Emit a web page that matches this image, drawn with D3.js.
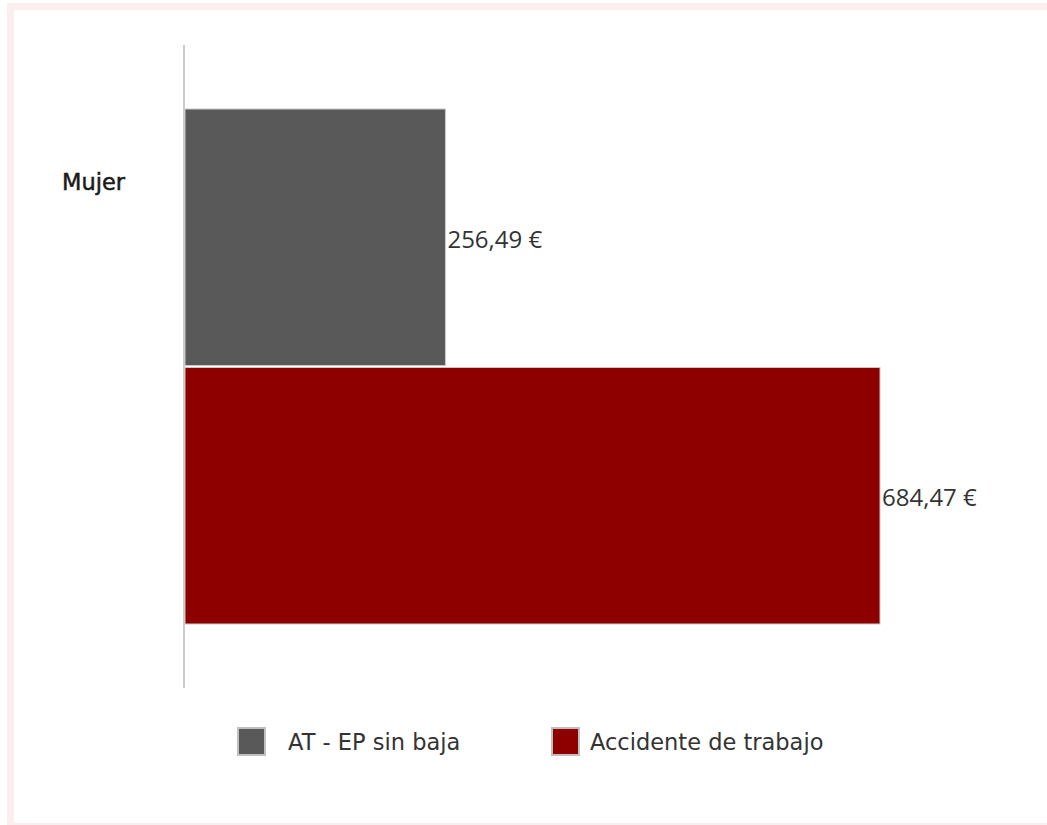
<!DOCTYPE html>
<html>
<head>
<meta charset="utf-8">
<script src="https://cdn.jsdelivr.net/npm/d3@7/dist/d3.min.js"></script>
<style>
  html, body { margin: 0; padding: 0; background: #fff; overflow: hidden; }
  svg { display: block; }
</style>
</head>
<body>
<svg id="chart" width="1047" height="825"></svg>
<script>
const categories = ["Mujer"];
const seriesNames = ["AT - EP sin baja", "Accidente de trabajo"];
const seriesColors = ["#595959", "#8e0000"];
const seriesValues = [[256.49], [684.47]];
const valueLabels = [["256,49 €"], ["684,47 €"]];

const svg = d3.select("#chart");

// frame
svg.append("rect").attr("x", 10.5).attr("y", 6.5).attr("width", 1060).attr("height", 820)
  .attr("fill", "none").attr("stroke", "#faeeee").attr("stroke-width", 7);

const x0 = 185, yTop = 45, yBot = 688;
const x = d3.scaleLinear().domain([0, 684.47]).range([x0, 880]);
const yBand = d3.scaleBand().domain(categories).range([yTop, yBot]).paddingInner(0).paddingOuter(0.1243);
const ySub = d3.scaleBand().domain(d3.range(seriesNames.length)).range([0, yBand.bandwidth()]).paddingInner(0.0077);

// bars
categories.forEach((c, ci) => {
  seriesNames.forEach((s, si) => {
    const v = seriesValues[si][ci];
    const y = yBand(c) + ySub(si);
    svg.append("rect")
      .attr("x", x(0)).attr("y", y)
      .attr("width", x(v) - x(0)).attr("height", ySub.bandwidth())
      .attr("fill", seriesColors[si]).attr("stroke", "#c8c8c8").attr("stroke-width", 1);
    svg.append("text")
      .attr("x", x(v) + 2).attr("y", y + ySub.bandwidth() / 2 + 1)
      .attr("dominant-baseline", "central")
      .attr("font-family", "'Open Sans', sans-serif").attr("font-size", 24)
      .attr("fill", "#333").text(valueLabels[si][ci]);
  });
});

// axis line
svg.append("line").attr("x1", 184).attr("x2", 184).attr("y1", yTop).attr("y2", yBot)
  .attr("stroke", "#cccccc").attr("stroke-width", 2);

// category label
categories.forEach(c => {
  svg.append("text").attr("x", 62).attr("y", 182)
    .attr("dominant-baseline", "central")
    .attr("font-family", "'DejaVu Sans', sans-serif").attr("font-size", 22.5)
    .attr("fill", "#1a1a1a").attr("stroke", "#1a1a1a").attr("stroke-width", 0.5).text(c);
});

// legend
const legX = [237, 551], legTX = [288, 590];
seriesNames.forEach((s, i) => {
  svg.append("rect").attr("x", legX[i] + 1).attr("y", 728).attr("width", 27).attr("height", 27)
    .attr("fill", seriesColors[i]).attr("stroke", "#c0c0c0").attr("stroke-width", 2);
  svg.append("text").attr("x", legTX[i]).attr("y", 742)
    .attr("dominant-baseline", "central")
    .attr("font-family", "'DejaVu Sans', sans-serif").attr("font-size", 22.5)
    .attr("fill", "#333").text(s);
});
</script>
</body>
</html>
